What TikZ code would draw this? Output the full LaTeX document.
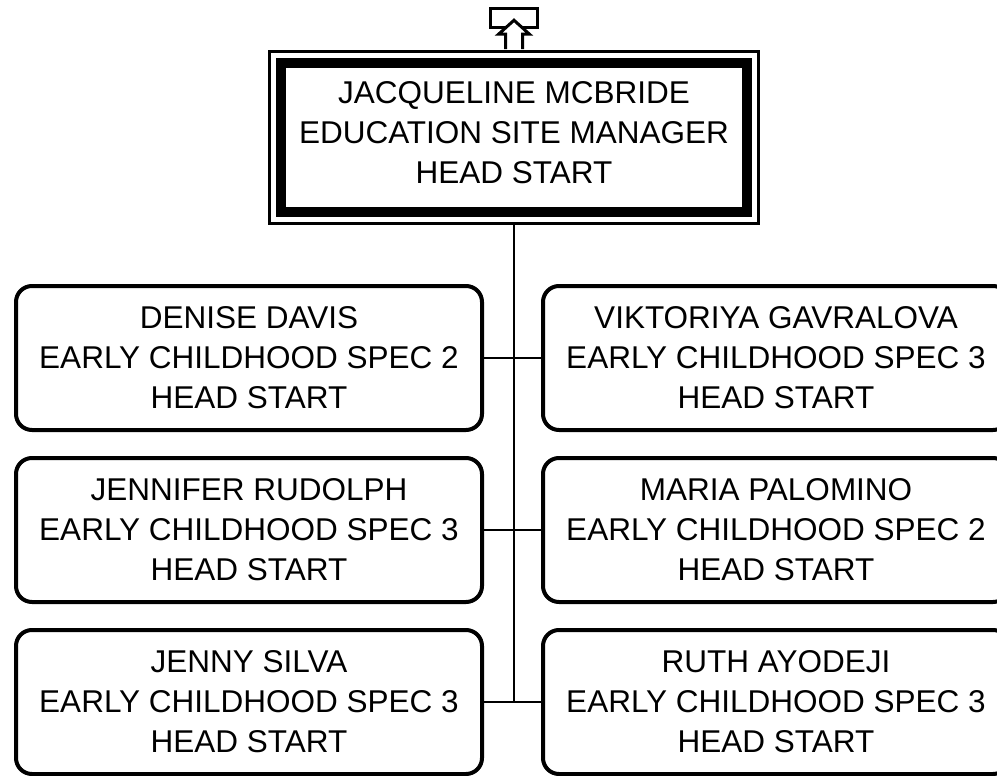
\documentclass[tikz,border=0pt]{standalone}
\usepackage{fontspec}
\setmainfont{Liberation Sans}
\usetikzlibrary{positioning, fit}
\newcommand\chartfont{\fontsize{31.5}{40}\selectfont}

\begin{document}
\begin{tikzpicture}[x=1pt, y=-1pt,
    staff/.style={draw, rounded corners=16pt, line width=4pt, align=center, minimum width=466pt, minimum height=144pt, outer sep=0pt, font=\chartfont},
    head/.style={draw, line width=10pt, align=center, minimum width=466pt, minimum height=149pt, outer sep=0pt, font=\chartfont, text depth=10pt},
    tab/.style={draw, line width=3pt, minimum width=47pt, minimum height=19pt},
    link/.style={line width=2pt}
]
\useasboundingbox (0,0) rectangle (997,776);

% Manager
\node[head] (head) at (514,137.5) {JACQUELINE MCBRIDE\\EDUCATION SITE MANAGER\\HEAD START};
\node[fit=(head), draw, line width=2.5pt, inner sep=11.5pt] (frame) {};

% Up marker
\node[tab] (up) at (513.5,18.5) {};
\draw[line width=3pt, fill=white, shift={(frame.north)}] (-8.5,-1) -- (-8.5,-16) -- (-15.5,-16) -- (0,-30) -- (15.5,-16) -- (8.5,-16) -- (8.5,-1);

% Staff, left column
\node[staff] (davis) at (249,358) {DENISE DAVIS\\EARLY CHILDHOOD SPEC 2\\HEAD START};
\node[staff, below=28pt of davis] (rudolph) {JENNIFER RUDOLPH\\EARLY CHILDHOOD SPEC 3\\HEAD START};
\node[staff, below=28pt of rudolph] (silva) {JENNY SILVA\\EARLY CHILDHOOD SPEC 3\\HEAD START};

% Staff, right column
\node[staff, right=61pt of davis] (gavralova) {VIKTORIYA GAVRALOVA\\EARLY CHILDHOOD SPEC 3\\HEAD START};
\node[staff, below=28pt of gavralova] (palomino) {MARIA PALOMINO\\EARLY CHILDHOOD SPEC 2\\HEAD START};
\node[staff, below=28pt of palomino] (ayodeji) {RUTH AYODEJI\\EARLY CHILDHOOD SPEC 3\\HEAD START};

% Connections
\coordinate (trunk) at (frame.south |- silva.east);
\draw[link] (frame.south) -- (trunk);
\draw[link] (davis) -- (gavralova);
\draw[link] (rudolph) -- (palomino);
\draw[link] (silva) -- (ayodeji);

\end{tikzpicture}
\end{document}
